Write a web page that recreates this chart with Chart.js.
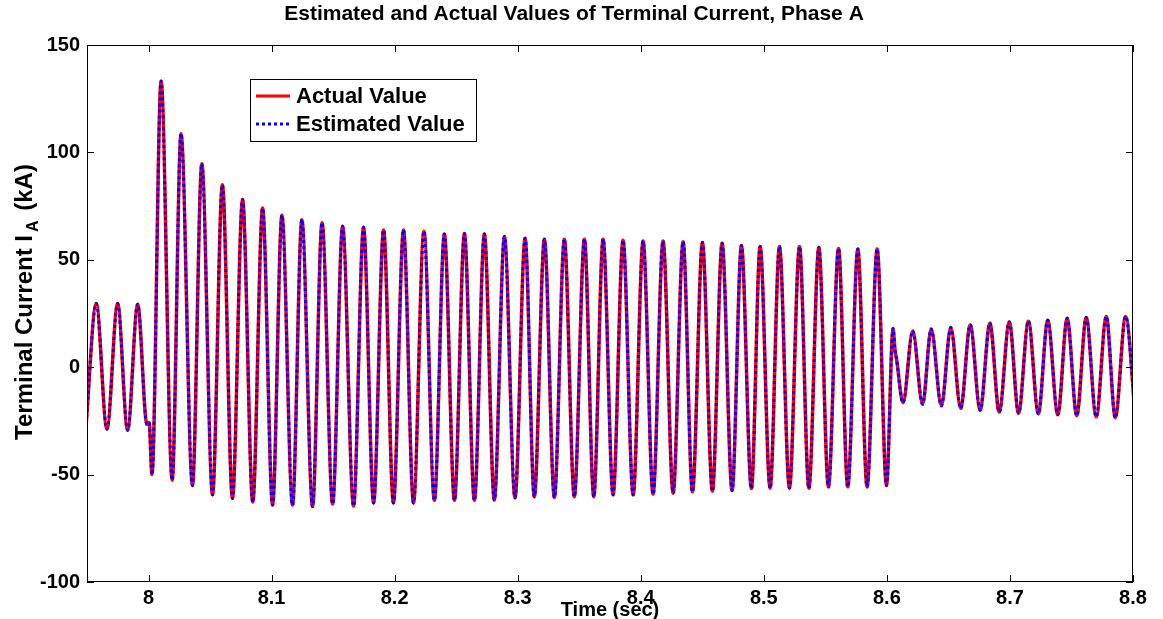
<!DOCTYPE html>
<html>
<head>
<meta charset="utf-8">
<script src="https://cdn.jsdelivr.net/npm/chart.js@4/dist/chart.umd.min.js"></script>
<style>
  html, body { margin: 0; padding: 0; background: #fff; }
  #wrap { width: 1163px; height: 619px; }
</style>
</head>
<body>
<div id="wrap"><canvas id="currentChart"></canvas></div>
<script>
// extrema of the phase A current waveform (time in s, current in kA)
const tExtrema = [
  7.9490, 7.9575, 7.9662, 7.9749, 7.9830, 7.9912, 7.9987, 8.0005, 8.0028, 8.0102,
  8.0192, 8.0264, 8.0357, 8.0433, 8.0520, 8.0600, 8.0682, 8.0764, 8.0847, 8.0927,
  8.1008, 8.1084, 8.1170, 8.1246, 8.1333, 8.1410, 8.1496, 8.1577, 8.1666, 8.1747,
  8.1829, 8.1910, 8.1990, 8.2072, 8.2153, 8.2238, 8.2323, 8.2404, 8.2486, 8.2567,
  8.2648, 8.2729, 8.2810, 8.2892, 8.2978, 8.3060, 8.3135, 8.3217, 8.3298, 8.3379,
  8.3460, 8.3542, 8.3618, 8.3694, 8.3775, 8.3856, 8.3938, 8.4019, 8.4100, 8.4181,
  8.4263, 8.4344, 8.4420, 8.4501, 8.4582, 8.4661, 8.4742, 8.4818, 8.4899, 8.4970,
  8.5051, 8.5127, 8.5208, 8.5290, 8.5366, 8.5447, 8.5525, 8.5607, 8.5682, 8.5764,
  8.5839, 8.5921, 8.5997, 8.6050, 8.6066, 8.6078, 8.6131, 8.6210, 8.6290, 8.6360,
  8.6443, 8.6519, 8.6600, 8.6677, 8.6758, 8.6837, 8.6913, 8.6995, 8.7070, 8.7150,
  8.7231, 8.7307, 8.7389, 8.7465, 8.7543, 8.7620, 8.7701, 8.7783, 8.7856, 8.7940,
  8.8020
];
const actualA = [
  -29.0, 29.6, -28.8, 29.6, -29.3, 29.3, -26.6, -25.8, -50.0, 133.2,
  -52.6, 108.7, -55.1, 94.7, -59.4, 84.9, -61.1, 78.1, -62.8, 74.1,
  -64.2, 70.7, -64.2, 68.7, -64.9, 67.3, -63.7, 65.6, -64.6, 65.1,
  -63.2, 63.9, -63.2, 63.9, -63.2, 63.3, -62.0, 62.0, -62.0, 62.2,
  -62.0, 62.0, -61.8, 60.8, -60.8, 60.0, -60.3, 59.6, -60.6, 59.6,
  -60.3, 59.6, -60.3, 59.6, -59.4, 59.1, -59.4, 58.7, -59.1, 58.7,
  -58.6, 58.4, -58.0, 58.0, -57.7, 57.7, -57.4, 56.7, -56.5, 56.2,
  -56.3, 56.2, -56.3, 56.2, -56.3, 55.7, -55.7, 55.3, -55.7, 55.0,
  -55.7, 55.0, -55.1, 18.0, 8.0, 4.0, -16.5, 16.9, -17.3, 17.8,
  -18.0, 18.5, -19.2, 19.7, -20.0, 20.5, -20.9, 21.1, -21.4, 21.4,
  -21.7, 21.9, -22.1, 22.8, -22.6, 23.1, -23.1, 23.6, -23.5, 23.6,
  -23.8
];
// the estimate lies on top of the actual value everywhere
const estimatedA = actualA.slice();

const xTicks = [8, 8.1, 8.2, 8.3, 8.4, 8.5, 8.6, 8.7, 8.8];
const yTicks = [-100, -50, 0, 50, 100, 150];
const seriesNames = ["Actual Value", "Estimated Value"];
const chartTitle = "Estimated and Actual Values of Terminal Current, Phase A";

const FAMILY = "'Liberation Sans', Arial, sans-serif";
const toPoints = (vals) => tExtrema.map((t, i) => ({ x: t, y: vals[i] }));
const boldFont = (size) => ({ family: FAMILY, size: size, weight: "bold" });

// box, inward ticks, titles and legend, MATLAB style
const matlabAxes = {
    id: "matlabAxes",
    afterDraw(chart) {
        const { ctx, chartArea: a, scales } = chart;
        const x = scales.x, y = scales.y;
        ctx.save();
        ctx.strokeStyle = "#000";
        ctx.lineWidth = 1;
        ctx.strokeRect(a.left + 0.5, a.top + 0.5, a.width - 1, a.height - 1);
        ctx.beginPath();
        xTicks.forEach((v) => {
            const px = Math.round(x.getPixelForValue(v)) + 0.5;
            ctx.moveTo(px, a.bottom); ctx.lineTo(px, a.bottom - 7);
            ctx.moveTo(px, a.top); ctx.lineTo(px, a.top + 7);
        });
        yTicks.forEach((v) => {
            const py = Math.round(y.getPixelForValue(v)) + 0.5;
            ctx.moveTo(a.left, py); ctx.lineTo(a.left + 7, py);
            ctx.moveTo(a.right, py); ctx.lineTo(a.right - 7, py);
        });
        ctx.stroke();

        ctx.fillStyle = "#000";
        // chart title
        ctx.font = "bold 21px " + FAMILY;
        ctx.textAlign = "center";
        ctx.textBaseline = "middle";
        ctx.fillText(chartTitle, 574, 14);

        // x axis title
        ctx.font = "bold 20px " + FAMILY;
        ctx.textBaseline = "bottom";
        ctx.fillText("Time (sec)", (a.left + a.right) / 2, 620);

        // y axis title: Terminal Current I_A (kA)
        ctx.translate(25, 302);
        ctx.rotate(-Math.PI / 2);
        ctx.textBaseline = "middle";
        const f1 = "bold 24px " + FAMILY;
        const f2 = "bold 16px " + FAMILY;
        const p1 = "Terminal Current I", p2 = "A", p3 = " (kA)";
        ctx.font = f1; const w1 = ctx.measureText(p1).width; const w3 = ctx.measureText(p3).width;
        ctx.font = f2; const w2 = ctx.measureText(p2).width;
        const sx = -(w1 + w2 + 6 + w3) / 2;
        ctx.textAlign = "left";
        ctx.font = f1; ctx.fillText(p1, sx, 0);
        ctx.font = f2; ctx.fillText(p2, sx + w1 + 3, 9);
        ctx.font = f1; ctx.fillText(p3, sx + w1 + w2 + 6, 0);
        ctx.setTransform(1, 0, 0, 1, 0, 0);

        // legend box
        const lx = 250, ly = 79, lw = 226, lh = 62;
        ctx.fillStyle = "#fff";
        ctx.fillRect(lx, ly, lw, lh);
        ctx.strokeStyle = "#000";
        ctx.lineWidth = 1;
        ctx.strokeRect(lx + 0.5, ly + 0.5, lw, lh);
        const rows = [ly + 17, ly + 45];
        chart.data.datasets.forEach((ds, i) => {
            const yy = rows[i];
            ctx.beginPath();
            ctx.strokeStyle = ds.borderColor;
            ctx.lineWidth = 3;
            ctx.setLineDash(ds.borderDash || []);
            ctx.moveTo(lx + 6, yy); ctx.lineTo(lx + 40, yy);
            ctx.stroke();
            ctx.setLineDash([]);
            ctx.fillStyle = "#000";
            ctx.font = "bold 22px " + FAMILY;
            ctx.textAlign = "left";
            ctx.textBaseline = "middle";
            ctx.fillText(ds.label, lx + 46, yy + 1);
        });
        ctx.restore();
    },
};

const ctx = document.getElementById("currentChart").getContext("2d");
const currentChart = new Chart(ctx, {
    type: "line",
    data: {
        datasets: [
            {
                label: seriesNames[0],
                data: toPoints(actualA),
                borderColor: "#ff0000",
                borderWidth: 3.5,
                pointRadius: 0,
                cubicInterpolationMode: "monotone",
                order: 2,
            },
            {
                label: seriesNames[1],
                data: toPoints(estimatedA),
                borderColor: "#0000ff",
                borderWidth: 3,
                borderDash: [3, 3],
                pointRadius: 0,
                cubicInterpolationMode: "monotone",
                order: 1,
            },
        ],
    },
    plugins: [matlabAxes],
    options: {
        responsive: true,
        maintainAspectRatio: false,
        animation: false,
        layout: { padding: { left: 0, right: 30, top: 45, bottom: 0 } },
        plugins: {
            legend: { display: false },
            tooltip: { enabled: false },
            title: { display: false },
        },
        scales: {
            x: {
                type: "linear",
                min: 7.95,
                max: 8.8,
                afterBuildTicks: (scale) => { scale.ticks = xTicks.map((v) => ({ value: v })); },
                afterFit: (scale) => { scale.height = 37; },
                grid: { display: false, drawTicks: false },
                border: { display: false },
                ticks: {
                    color: "#000",
                    font: boldFont(20),
                    padding: 4,
                    maxRotation: 0,
                    autoSkip: false,
                    callback: (v) => String(Math.round(v * 10) / 10),
                },
            },
            y: {
                min: -100,
                max: 150,
                afterBuildTicks: (scale) => { scale.ticks = yTicks.map((v) => ({ value: v })); },
                afterFit: (scale) => { scale.width = 87; },
                grid: { display: false, drawTicks: false },
                border: { display: false },
                ticks: {
                    color: "#000",
                    font: boldFont(20),
                    padding: 7,
                    autoSkip: false,
                },
            },
        },
    },
});
</script>
</body>
</html>
